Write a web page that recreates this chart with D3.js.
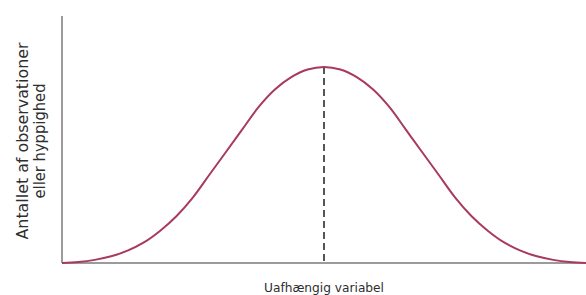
<!DOCTYPE html>
<html>
<head>
<meta charset="utf-8">
<script src="https://cdn.jsdelivr.net/npm/d3@7"></script>
<style>
  body { margin: 0; background: #fff; }
  text { font-family: "DejaVu Sans", Verdana, sans-serif; fill: #2e2e2e; }
</style>
</head>
<body>
<svg id="chart" width="586" height="295"></svg>
<script>
// values (x in std-like units, y as % of peak)
const xVals = [-4, -3.75, -3.5, -3.25, -3, -2.75, -2.5, -2.25, -2, -1.75, -1.5, -1.25, -1, -0.75, -0.5, -0.25, 0,
  0.25, 0.5, 0.75, 1, 1.25, 1.5, 1.75, 2, 2.25, 2.5, 2.75, 3, 3.25, 3.5, 3.75, 4];
const yVals = [0, 0.5, 1.6, 3.4, 6.3, 10.5, 16.5, 24, 33.5, 45, 56.5, 68, 79.5, 88.5, 94.8, 98.7, 100,
  98.7, 94.8, 88.5, 79.5, 68, 56.5, 45, 33.5, 24, 16.5, 10.5, 6.3, 3.4, 1.6, 0.5, 0];
const peakX = 0;
const peakY = 100;
const xLabel = 'Uafhængig variabel';
const yLabelLines = ['Antallet af observationer', 'eller hyppighed'];

const margin = { top: 16, right: 0, bottom: 32, left: 62 };
const W = 586, H = 295;
const width = W - margin.left - margin.right;
const height = H - margin.top - margin.bottom;

const svg = d3.select('#chart');
const g = svg.append('g').attr('transform', 'translate(' + margin.left + ',' + margin.top + ')');

const x = d3.scaleLinear().domain([-4, 4]).range([0, width]);
const y = d3.scaleLinear().domain([0, 126]).range([height, 0]);

const data = xVals.map((v, i) => ({ x: v, y: yVals[i] }));

// axes (plain lines, no ticks)
g.append('line')
  .attr('x1', 0).attr('x2', 0).attr('y1', 0).attr('y2', height)
  .attr('stroke', '#7a7a7a').attr('stroke-width', 1.5);
g.append('line')
  .attr('x1', 0).attr('x2', width).attr('y1', height).attr('y2', height)
  .attr('stroke', '#7a7a7a').attr('stroke-width', 1.5);

// dashed line at the peak
g.append('line')
  .attr('x1', x(peakX)).attr('x2', x(peakX))
  .attr('y1', y(peakY)).attr('y2', height)
  .attr('stroke', '#555').attr('stroke-width', 2)
  .attr('stroke-dasharray', '7,4');

const line = d3.line().x(d => x(d.x)).y(d => y(d.y)).curve(d3.curveCatmullRom);
g.append('path').datum(data)
  .attr('d', line)
  .attr('fill', 'none')
  .attr('stroke', '#a83a5c')
  .attr('stroke-width', 2);

// labels
svg.append('text')
  .attr('x', margin.left + x(0)).attr('y', 292)
  .attr('text-anchor', 'middle')
  .attr('textLength', 120).attr('lengthAdjust', 'spacingAndGlyphs')
  .style('font-size', '13px')
  .text(xLabel);

// y label: two rotated lines
const yLens = [197, 115];
svg.selectAll('text.ylab').data(yLabelLines).enter().append('text')
  .attr('class', 'ylab')
  .attr('transform', (d, i) => 'translate(' + (28 + i * 17) + ',141) rotate(-90)')
  .attr('text-anchor', 'middle')
  .attr('textLength', (d, i) => yLens[i]).attr('lengthAdjust', 'spacingAndGlyphs')
  .style('font-size', '15px')
  .text(d => d);
</script>
</body>
</html>
